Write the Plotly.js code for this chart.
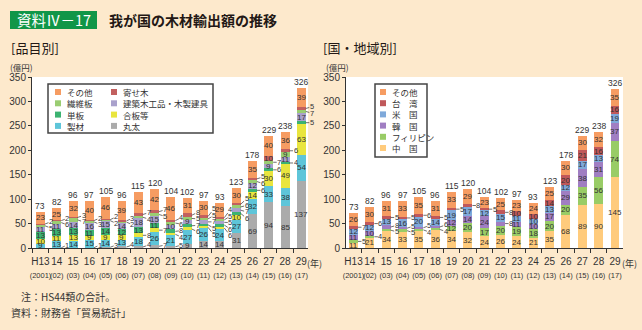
<!DOCTYPE html>
<html><head><meta charset="utf-8">
<script src="https://cdn.plot.ly/plotly-3.0.1.min.js"></script>
<style>html,body{margin:0;padding:0;background:#FDE9CC;}#chart{width:642px;height:330px;}</style>
</head><body><div id="chart"></div>
<script>
// ---------- data ----------
const years = ['H13','14','15','16','17','18','19','20','21','22','23','24','25','26','27','28','29'];
const yearsAD = ['(2001)','(02)','(03)','(04)','(05)','(06)','(07)','(08)','(09)','(10)','(11)','(12)','(13)','(14)','(15)','(16)','(17)'];
const totals = [73,82,96,97,105,96,115,120,104,102,97,93,123,178,229,238,326];

// 品目別 (bottom -> top)
const itemNames = ['丸太','製材','合板等','単板','建築木工品・木製建具','繊維板','寄せ木','その他'];
const logs       = [0,1,0,1,3,4,4,7,5,9,14,14,31,69,94,85,137];
const lumber     = [9,13,14,15,14,13,18,26,21,27,26,24,27,32,33,38,54];
const plywood    = [10,11,13,9,9,9,8,7,4,6,5,6,10,14,30,49,63];
const veneer     = [13,13,13,11,14,12,13,11,8,7,5,6,6,6,6,4,5];
const joinery    = [11,11,14,16,15,14,18,15,10,9,7,5,7,12,9,11,17];
const fibreboard = [5,6,7,3,2,2,4,5,6,5,5,5,6,6,7,9,7];
const parquet    = [2,2,3,2,2,3,7,7,4,8,5,4,5,5,10,6,5];
const itemOther  = [23,25,32,40,46,39,43,42,46,31,30,29,30,35,40,36,39];

// 国・地域別 (bottom -> top)
const countryNames = ['中　国','フィリピン','韓　国','米　国','台　湾','その他'];
const china       = [11,21,34,33,35,36,34,32,24,26,24,21,35,68,89,90,145];
const philippines = [5,4,5,5,4,4,12,20,17,20,19,18,20,20,35,56,74];
const korea       = [11,10,8,5,5,6,12,14,24,8,11,10,17,29,38,31,37];
const usa         = [12,12,13,16,20,14,19,17,12,15,11,10,13,12,17,13,19];
const taiwan      = [7,6,5,5,6,5,5,8,5,8,10,10,14,20,21,16,16];
const countryOther= [26,30,31,33,35,31,33,29,23,25,23,24,25,30,30,32,35];

// ---------- styles ----------
const BG = '#FDE9CC', TXT = '#333333', AX = '#333333';
const FONT = 'Liberation Sans, Noto Sans CJK JP, sans-serif';
const JFONT = 'Noto Sans CJK JP, sans-serif';
const itemColors = ['#ABABAB','#5EC5D9','#E9E53E','#3CB371','#A9A1CC','#9ACD72','#C2605F','#F69C62'];
const countryColors = ['#FFCB7C','#99CC66','#A07EC2','#7FA9DA','#C0585A','#F69C62'];
const itemSeries = [logs,lumber,plywood,veneer,joinery,fibreboard,parquet,itemOther];
const countrySeries = [china,philippines,korea,usa,taiwan,countryOther];

const W = 642, H = 330;
const Y0 = 248, Y350 = 77;
const PXU = (Y0 - Y350) / 350;
const BARGAP = 0.45, HALF = (1 - BARGAP) / 2;
const INSIDE_MIN = 9, GAP = 6.5;
const px = x => x / W, py = y => 1 - y / H;

const traces = [];
itemSeries.forEach((v,k)=>traces.push({type:'bar',x:years,y:v,name:itemNames[k],xaxis:'x',yaxis:'y',
  marker:{color:itemColors[k],line:{width:0}},hoverinfo:'skip',showlegend:false}));
countrySeries.forEach((v,k)=>traces.push({type:'bar',x:years,y:v,name:countryNames[k],xaxis:'x2',yaxis:'y2',
  marker:{color:countryColors[k],line:{width:0}},hoverinfo:'skip',showlegend:false}));

function spread(nat, gap){
  let cl = nat.map((v,i)=>({idx:[i],center:v}));
  const bottom = c => c.center - (c.idx.length-1)/2*gap;
  const top = c => c.center + (c.idx.length-1)/2*gap;
  let merged = true;
  while(merged){
    merged = false;
    cl.forEach(c=>{ if (bottom(c) < 3) c.center += 3 - bottom(c); });
    for (let c=0;c<cl.length-1;c++){
      if (bottom(cl[c+1]) - top(cl[c]) < gap){
        const idx = cl[c].idx.concat(cl[c+1].idx);
        const center = idx.reduce((s,i)=>s+nat[i],0)/idx.length;
        cl.splice(c,2,{idx,center}); merged = true; break;
      }
    }
  }
  const pos = [];
  cl.forEach(c=>c.idx.forEach((i,k)=>pos[i]=c.center+(k-(c.idx.length-1)/2)*gap));
  return pos;
}

const ann = [];
function addLabels(series, xr, yr){
  for (let i=0;i<years.length;i++){
    let cum = 0; const outs = [];
    series.forEach(vals=>{
      const v = vals[i]; const mid = cum + v/2; cum += v;
      if (v >= INSIDE_MIN) ann.push({xref:xr,yref:yr,x:i,y:mid,text:String(v),showarrow:false,borderpad:0,
        xanchor:'center',yanchor:'middle',font:{size:8,color:TXT}});
      else if (v > 0) outs.push({v,mid});
    });
    const nat = outs.map(o=>o.mid*PXU);
    const pos = spread(nat, GAP);
    outs.forEach((o,k)=>ann.push({xref:xr,yref:yr,x:i+HALF,y:o.mid,text:String(o.v),showarrow:true,
      arrowhead:0,arrowwidth:0.7,arrowcolor:TXT,ax:6,ay:-(pos[k]-nat[k]),standoff:0,borderpad:0,
      font:{size:7.5,color:TXT}}));
    ann.push({xref:xr,yref:yr,x:i,y:cum,text:String(totals[i]),showarrow:false,borderpad:0,xanchor:'center',yanchor:'bottom',yshift:0,font:{size:8.5,color:TXT}});
  }
}
addLabels(itemSeries,'x','y');
addLabels(countrySeries,'x2','y2');

// ---------- texts ----------
const shapes = [];
function ptext(x, y, text, size, color, xanchor, family){
  ann.push({xref:'paper',yref:'paper',x:px(x),y:py(y),text:text,showarrow:false,xanchor:xanchor||'center',yanchor:'middle',
    font:{family:family||JFONT,size:size,color:color||TXT}});
}
shapes.push({type:'rect',xref:'paper',yref:'paper',x0:px(10),x1:px(97),y0:py(11),y1:py(29),fillcolor:'#109648',line:{width:0}});
ptext(53.5, 20, '資料Ⅳ－17', 14.5, '#ffffff');
ptext(107, 20, '<b>我が国の木材輸出額の推移</b>', 14, '#231815', 'left');
ptext(9, 47, '[品目別]', 13, '#231815', 'left');
ptext(321, 47, '[国・地域別]', 13, '#231815', 'left');
ptext(22, 67, '(億円)', 8.5);
ptext(337, 67, '(億円)', 8.5);
ptext(314, 263, '(年)', 9);
ptext(629, 263, '(年)', 9);
ptext(19, 296, '注：HS44類の合計。', 10, TXT, 'left');
ptext(9, 312, '資料：財務省「貿易統計」', 10, TXT, 'left');

// ---------- legends ----------
function legendItem(xs, yc, color, label){
  shapes.push({type:'rect',xref:'paper',yref:'paper',x0:px(xs),x1:px(xs+6),y0:py(yc+3),y1:py(yc-3),fillcolor:color,line:{width:0}});
  ptext(xs+10, yc, label, 8.5, TXT, 'left');
}
shapes.push({type:'rect',xref:'paper',yref:'paper',x0:px(48),x1:px(213),y0:py(133),y1:py(84),fillcolor:'#ffffff',line:{color:'#444',width:1.5}});
[7,5,3,1].forEach((k,r)=>legendItem(55, 92+r*11.3, itemColors[k], itemNames[k]));
[6,4,2,0].forEach((k,r)=>legendItem(111, 92+r*11.3, itemColors[k], itemNames[k]));
shapes.push({type:'rect',xref:'paper',yref:'paper',x0:px(375),x1:px(427),y0:py(157),y1:py(84),fillcolor:'#ffffff',line:{color:'#444',width:1.5}});
[5,4,3,2,1,0].forEach((k,r)=>legendItem(380, 92+r*11.2, countryColors[k], countryNames[k]));

const ticktext = years.map((y,i)=>y+'<br><span style="font-size:7.5px">'+yearsAD[i]+'</span>');
const xbase = {type:'category',tickmode:'array',tickvals:years,ticktext:ticktext,tickson:'boundaries',ticks:'outside',ticklen:4,
  ticklabelstandoff:4,tickangle:0,tickcolor:AX,showline:true,linecolor:AX,linewidth:1,showgrid:false,zeroline:false,
  tickfont:{size:10,color:TXT},fixedrange:true};
const ybase = {range:[0,350],tickmode:'linear',tick0:0,dtick:50,ticks:'outside',ticklen:3,tickcolor:AX,showline:true,linecolor:AX,
  linewidth:1,showgrid:false,zeroline:false,tickfont:{size:10,color:TXT},domain:[1-Y0/H,1-Y350/H],fixedrange:true};

const layout = {
  width:W,height:H,margin:{l:0,r:0,t:0,b:0},paper_bgcolor:BG,plot_bgcolor:'#ffffff',
  barmode:'stack',bargap:BARGAP,showlegend:false,font:{family:FONT,color:TXT,size:10},
  xaxis:Object.assign({},xbase,{domain:[32/W,308/W],range:[-0.52,16.41],anchor:'y'}),
  yaxis:Object.assign({},ybase,{anchor:'x'}),
  xaxis2:Object.assign({},xbase,{domain:[346/W,623/W],range:[-0.46,16.49],anchor:'y2'}),
  yaxis2:Object.assign({},ybase,{anchor:'x2'}),
  annotations:ann, shapes:shapes
};
Plotly.newPlot('chart',traces,layout,{staticPlot:true,displayModeBar:false});
</script></body></html>
